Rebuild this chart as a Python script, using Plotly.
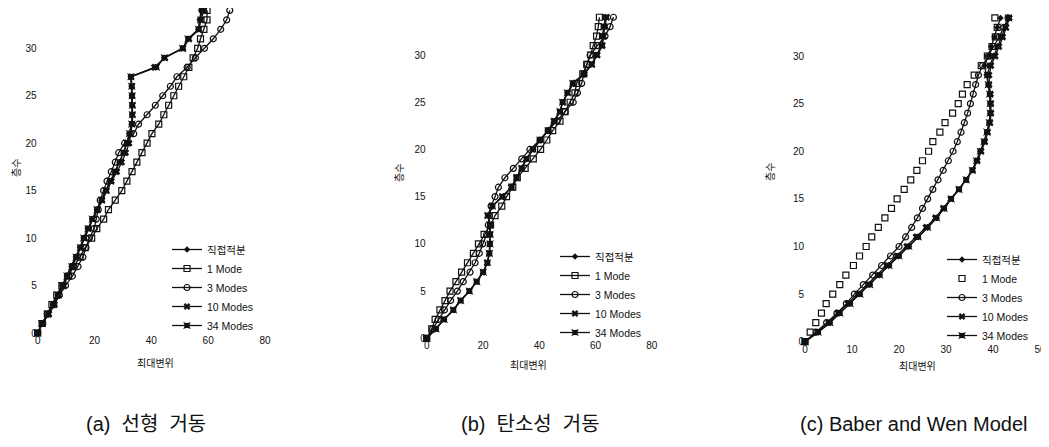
import plotly.graph_objects as go

# The page body adds an 8px margin on every side; the figure is sized so the page does not scroll
OFF = 8
W, H = 1049 - OFF, 447 - 2 * OFF

floors = list(range(35))
names = ["직접적분", "1 Mode", "3 Modes", "10 Modes", "34 Modes"]

# (a) 선형 거동
direct_a = [0, 1.4, 3.6, 5.4, 7.0, 8.6, 10.2, 11.9, 13.4, 14.9, 16.1, 17.6, 19.1, 20.8, 22.4, 23.9, 25.5,
            27.2, 28.8, 30.2, 31.4, 32.2, 33.0, 33.2, 33.2, 33.1, 33.0, 32.7, 41.5, 44.5, 51.0, 53.0,
            56.5, 57.0, 57.5]
one_a = [0, 1.6, 3.4, 5.0, 6.7, 8.5, 10.8, 12.6, 14.9, 16.7, 19.0, 20.8, 23.2, 24.9, 27.3, 29.6, 31.4,
         33.2, 34.9, 36.7, 38.5, 40.2, 42.6, 44.4, 46.1, 47.9, 49.6, 51.4, 53.2, 54.7, 56.3, 57.3, 58.5,
         59.6, 59.6]
three_a = [0, 1.8, 3.4, 5.6, 7.6, 9.8, 12.2, 14.2, 15.9, 17.0, 18.2, 19.9, 20.6, 21.3, 22.0, 23.2, 24.4,
           25.9, 27.3, 28.5, 30.6, 33.8, 35.5, 38.5, 41.4, 44.0, 46.7, 49.0, 52.6, 55.5, 58.7, 61.8, 64.4,
           66.5, 67.6]
ten_a = [0, 1.6, 4.0, 6.0, 7.6, 9.2, 10.6, 12.2, 13.7, 15.1, 16.4, 17.9, 19.4, 21.1, 22.7, 24.3, 26.0,
         27.9, 29.6, 31.0, 32.2, 32.7, 33.3, 33.4, 33.4, 33.3, 33.2, 32.9, 41.0, 44.8, 51.2, 53.3, 56.8,
         57.3, 57.8]
tf_a = [0, 1.4, 3.7, 5.5, 7.1, 8.7, 10.3, 12.0, 13.5, 15.0, 16.2, 17.7, 19.2, 20.9, 22.5, 24.0, 25.6,
        27.2, 28.8, 30.2, 31.4, 32.3, 33.1, 33.3, 33.3, 33.2, 33.1, 32.8, 41.8, 44.6, 51.0, 52.9, 56.6,
        57.4, 58.6]

# (b) 탄소성 거동
direct_b = [0, 3.3, 6.2, 9.5, 12.1, 15.2, 17.8, 20.1, 21.6, 22.3, 22.5, 22.5, 22.5, 21.8, 23.4, 27.0,
            30.2, 32.0, 33.8, 35.5, 37.9, 40.3, 43.2, 45.3, 47.4, 48.3, 50.0, 51.9, 55.9, 58.6, 60.4,
            62.2, 62.6, 63.0, 63.7]
one_b = [0, 1.8, 3.0, 4.7, 6.5, 8.3, 10.4, 12.4, 14.5, 16.6, 18.4, 20.4, 22.7, 24.3, 26.7, 28.4, 30.6,
         32.2, 35.0, 37.9, 40.5, 42.7, 44.8, 47.4, 49.2, 51.0, 52.7, 53.3, 55.5, 56.9, 58.3, 59.2, 60.4,
         61.0, 61.4]
three_b = [0, 2.1, 4.1, 6.3, 8.5, 10.9, 13.0, 15.4, 17.2, 18.7, 19.9, 21.3, 21.9, 22.3, 22.9, 24.3, 25.5,
           27.8, 30.8, 33.8, 36.7, 40.3, 43.2, 46.4, 49.2, 52.1, 53.6, 55.1, 55.9, 57.1, 58.1, 60.7, 63.4,
           65.2, 66.4]
ten_b = [0, 3.2, 6.1, 9.4, 12.0, 15.1, 17.7, 20.0, 21.5, 22.2, 22.4, 22.6, 22.6, 21.6, 23.2, 26.8, 30.0,
         31.9, 33.7, 35.4, 37.8, 40.2, 43.1, 45.2, 47.3, 48.4, 50.2, 52.1, 56.1, 58.8, 60.7, 62.5, 62.9,
         63.3, 64.0]
tf_b = [0, 3.3, 6.2, 9.5, 12.1, 15.2, 17.8, 20.1, 21.6, 22.3, 22.5, 22.5, 22.5, 21.8, 23.4, 27.0, 30.2,
        32.0, 33.8, 35.5, 37.9, 40.3, 43.2, 45.3, 47.4, 48.3, 50.0, 51.9, 55.9, 58.6, 60.4, 62.2, 62.6,
        63.0, 63.7]

# (c) Baber and Wen Model
direct_c = [0, 2.8, 5.3, 7.4, 9.6, 11.7, 13.8, 15.9, 17.9, 20.0, 22.1, 24.1, 26.1, 28.0, 29.6, 31.1,
            32.8, 34.3, 35.6, 36.5, 37.3, 38.1, 38.7, 39.2, 39.4, 39.4, 39.3, 39.0, 38.6, 38.2, 39.0,
            39.6, 40.3, 40.9, 41.6]
one_c = [0, 1.1, 2.3, 3.5, 4.5, 5.9, 7.4, 8.7, 10.3, 11.6, 13.0, 14.2, 15.6, 17.0, 18.4, 19.6, 21.1,
         22.5, 23.8, 25.0, 26.3, 27.2, 28.7, 29.8, 31.4, 32.6, 33.5, 34.5, 36.0, 37.5, 38.8, 39.8, 40.5,
         40.9, 40.4]
three_c = [0, 2.4, 4.6, 6.8, 8.8, 10.5, 12.4, 14.4, 16.3, 18.2, 20.0, 21.4, 22.7, 23.9, 25.0, 26.1,
           27.2, 28.3, 29.4, 30.5, 31.5, 32.4, 33.2, 33.9, 34.6, 35.2, 35.8, 36.3, 36.9, 37.8, 39.0,
           40.2, 41.3, 42.3, 43.2]
ten_c = [0, 2.6, 5.0, 7.0, 9.1, 11.2, 13.3, 15.4, 17.4, 19.5, 21.6, 23.6, 25.7, 27.7, 29.4, 31.0, 32.7,
         34.3, 35.7, 36.7, 37.5, 38.3, 38.9, 39.4, 39.6, 39.6, 39.5, 39.2, 39.2, 39.6, 40.5, 41.3, 42.1,
         42.8, 43.5]
tf_c = [0, 2.8, 5.3, 7.4, 9.6, 11.7, 13.8, 15.9, 17.9, 20.0, 22.1, 24.1, 26.1, 28.0, 29.6, 31.1, 32.8,
        34.3, 35.6, 36.5, 37.3, 38.1, 38.7, 39.2, 39.4, 39.4, 39.3, 39.0, 38.8, 39.3, 40.2, 41.0, 41.8,
        42.6, 43.3]

x_ticks_ab = [0, 20, 40, 60, 80]
x_ticks_c = [0, 10, 20, 30, 40, 50]
y_ticks = [0, 5, 10, 15, 20, 25, 30]
y_title = "층수"
x_title = "최대변위"
captions = ["(a)  선형  거동", "(b)  탄소성  거동", "(c) Baber and Wen Model"]

FONT = "Liberation Sans, Arial, Noto Sans CJK KR, sans-serif"
CJK = "Noto Sans CJK KR, sans-serif"
INK = "#111111"

styles = [
    dict(mode="lines+markers", marker=dict(symbol="diamond", size=5, color=INK)),
    dict(mode="lines+markers", marker=dict(symbol="square-open", size=6, color=INK, line=dict(width=1.2))),
    dict(mode="lines+markers", marker=dict(symbol="circle-open", size=6, color=INK, line=dict(width=1.2))),
    dict(mode="lines+markers", marker=dict(symbol="x", size=6, color=INK)),
    dict(mode="lines+markers", marker=dict(symbol="star-square", size=7, color=INK)),
]


def px(sx):
    return (sx - OFF) / W


def py(sy):
    return (H - (sy - OFF)) / H


# positions below are in screen pixels of the 1049x447 window
panels = [
    dict(series=[direct_a, one_a, three_a, ten_a, tf_a], xr=[0, 80], xt=x_ticks_ab,
         xd=[37.7, 265.0], y0=333.0, ypu=9.49, leg=(167, 235),
         ytitle=(15, 168), xtitle=(155, 362), cap=(84, 424), one_mode="lines+markers"),
    dict(series=[direct_b, one_b, three_b, ten_b, tf_b], xr=[0, 80], xt=x_ticks_ab,
         xd=[426.7, 651.7], y0=338.3, ypu=9.443, leg=(555, 242),
         ytitle=(398, 173), xtitle=(528, 364), cap=(459, 424), one_mode="lines+markers"),
    dict(series=[direct_c, one_c, three_c, ten_c, tf_c], xr=[0, 50], xt=x_ticks_c,
         xd=[805.0, 1040.0], y0=341.7, ypu=9.523, leg=(942, 245),
         ytitle=(769, 172), xtitle=(917, 365), cap=(798, 424), one_mode="markers"),
]

fig = go.Figure()
layout = dict(width=W, height=H, autosize=False, margin=dict(l=0, r=0, t=0, b=0, autoexpand=False),
              paper_bgcolor="white", plot_bgcolor="white",
              font=dict(family=FONT, size=10, color=INK), annotations=[])

for i, p in enumerate(panels):
    sfx = "" if i == 0 else str(i + 1)
    legname = "legend" if i == 0 else "legend" + str(i + 1)
    for j, (nm, ys) in enumerate(zip(names, p["series"])):
        st = styles[j]
        mode = p["one_mode"] if j == 1 else st["mode"]
        fig.add_trace(go.Scatter(
            x=ys, y=floors, name=nm, mode=mode, marker=st["marker"],
            line=dict(color=INK, width=1.3), xaxis="x" + sfx, yaxis="y" + sfx,
            legend=legname, showlegend=True, cliponaxis=False))
    # top of the plotting area: 35 units above zero, but not above the visible top edge
    ymax = min(35.0, (p["y0"] - OFF) / p["ypu"])
    ytop = p["y0"] - ymax * p["ypu"]
    layout["xaxis" + sfx] = dict(domain=[px(p["xd"][0]), px(p["xd"][1])], range=p["xr"],
                                 tickvals=p["xt"], showgrid=False, zeroline=False, showline=False,
                                 ticks="", anchor="y" + sfx, automargin=False,
                                 ticklabeloverflow="allow",
                                 tickfont=dict(size=10, color=INK))
    layout["yaxis" + sfx] = dict(domain=[py(p["y0"]), py(ytop)], range=[0, ymax],
                                 tickvals=y_ticks, showgrid=False, zeroline=False, showline=False,
                                 ticks="", anchor="x" + sfx, automargin=False,
                                 tickfont=dict(size=10, color=INK))
    layout[legname] = dict(x=px(p["leg"][0]), y=py(p["leg"][1]), xanchor="left", yanchor="top",
                           bgcolor="rgba(0,0,0,0)", font=dict(size=10.5, family=FONT, color=INK),
                           itemwidth=30, tracegroupgap=0)
    layout["annotations"] += [
        dict(text=y_title, x=px(p["ytitle"][0]), y=py(p["ytitle"][1]), xref="paper", yref="paper",
             xanchor="center", yanchor="middle",
             showarrow=False, textangle=-90, font=dict(size=10, family=CJK, color=INK)),
        dict(text=x_title, x=px(p["xtitle"][0]), y=py(p["xtitle"][1]), xref="paper", yref="paper",
             xanchor="center", yanchor="middle",
             showarrow=False, font=dict(size=10, family=CJK, color=INK)),
        dict(text=captions[i], x=px(p["cap"][0]), y=py(p["cap"][1]), xref="paper", yref="paper",
             xanchor="left", yanchor="middle", showarrow=False,
             font=dict(size=20, family="Liberation Sans, Noto Sans CJK KR", color=INK)),
    ]

fig.update_layout(**layout)
fig.write_html("out.html")
